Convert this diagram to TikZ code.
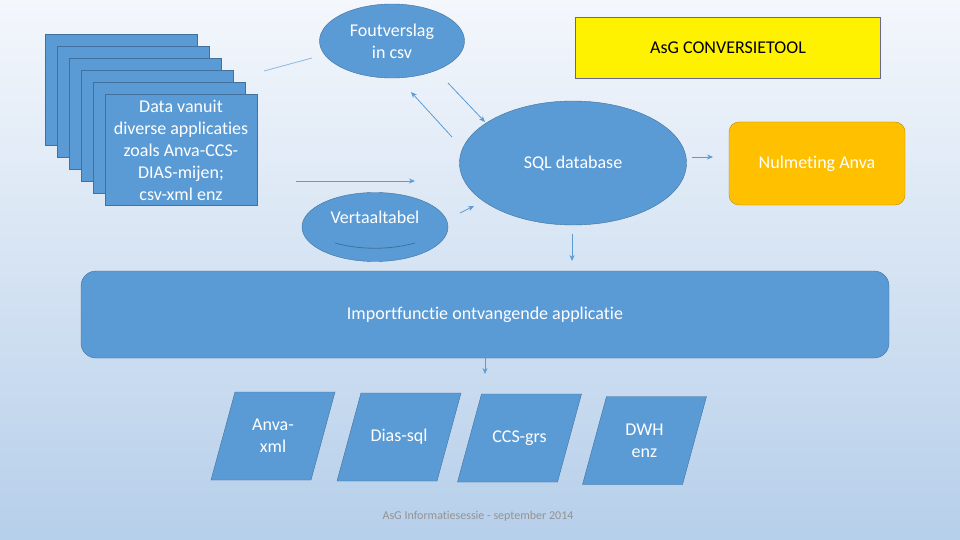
\documentclass[tikz,border=0pt]{standalone}
\usepackage{fontspec}
\setmainfont[Ligatures=NoCommon]{Carlito}
\usetikzlibrary{arrows.meta,shapes.geometric,positioning}

\definecolor{boxblue}{HTML}{5B9BD5}
\definecolor{boxedge}{HTML}{41719C}
\definecolor{nulfill}{HTML}{FFC000}
\definecolor{nuledge}{HTML}{BC8C00}
\definecolor{bgtop}{HTML}{F4F7FC}
\definecolor{bgbottom}{HTML}{B6CFEA}

\tikzset{
  blok/.style={draw=boxedge,fill=boxblue,text=white,font=\fontsize{18}{22}\selectfont,align=center},
  blad/.style={blok,rectangle,minimum width=152pt,minimum height=111pt,inner sep=0pt},
  ovaal/.style={blok,ellipse,inner sep=0pt},
  tekst/.style={text=white,font=\fontsize{18}{22}\selectfont,align=center},
  pijl/.style={draw=boxblue,line width=0.8pt,-{Stealth[length=6pt,width=5pt]}},
}

\begin{document}
\begin{tikzpicture}[x=1pt,y=-1pt]
\useasboundingbox (0,0) rectangle (960,540);
\shade[top color=bgtop,bottom color=bgbottom] (0,0) rectangle (960,540);

% stapel bladen met bronbestanden
\foreach \i in {0,...,4}
  \draw[draw=boxedge,fill=boxblue] (45+12*\i,34+12*\i) rectangle ++(152,111);
\node[blad] (bron) at (181,150) {Data vanuit\\diverse applicaties\\zoals Anva-CCS-\\DIAS-mijen;\\csv-xml enz};

% ellipsen
\node[ovaal,minimum width=145pt,minimum height=74pt] (fout) at (392,41) {Foutverslag\\in csv};
\node[ovaal,minimum width=146pt,minimum height=69pt] (vert) at (375,227) {};
\node[tekst] (vertlabel) at (375,217) {Vertaaltabel};
\draw[boxedge,line width=0.8pt] (335,243) .. controls (360,250) and (390,250) .. (415,243);
\node[ovaal,minimum width=227pt,minimum height=124pt] (sql) at (573,163) {SQL database};

% rechterkant
\node[draw=gray!80!blue,fill=yellow,minimum width=305pt,minimum height=61pt,
  font=\fontsize{18}{22}\selectfont] (tool) at (728,47.5) {AsG CONVERSIETOOL};
\node[draw=nuledge,fill=nulfill,text=white,rounded corners=10pt,minimum width=176pt,
  minimum height=83pt,font=\fontsize{18}{22}\selectfont] (nul) at (817,163.5) {Nulmeting Anva};

% importfunctie
\node[blok,rounded corners=15pt,minimum width=808pt,minimum height=87pt] (imp) at (485,314.5)
  {Importfunctie ontvangende applicatie};

% doelformaten (parallellogrammen)
\foreach \cx/\cy/\nm/\txt in {273/436/anva/{Anva-\\xml},399/437/dias/{Dias-sql},
    519.5/438/ccs/{CCS-grs},644.5/440.5/dwh/{DWH\\enz}} {
  \draw[draw=boxedge,fill=boxblue] (\cx-62,\cy+44) -- (\cx+38,\cy+44)
    -- (\cx+62,\cy-44) -- (\cx-38,\cy-44) -- cycle;
  \node[tekst] (\nm) at (\cx,\cy) {\txt};
}

\node[text=gray!85,font=\fontsize{12}{14}\selectfont] (voet) at (478,516) {AsG Informatiesessie - september 2014};

% verbindingen
\coordinate (l1) at (264,71);  \coordinate (l2) at (312,58);
\coordinate (a1) at (448,83);  \coordinate (a2) at (485,122);
\coordinate (b1) at (452,137); \coordinate (b2) at (411,92);
\coordinate (c1) at (296,181); \coordinate (c2) at (415,181);
\coordinate (d1) at (460,213); \coordinate (d2) at (474,206);
\coordinate (e1) at (692,157); \coordinate (e2) at (713,157);
\coordinate (f1) at (572,234); \coordinate (f2) at (572,261);
\coordinate (g1) at (485,352); \coordinate (g2) at (485,374);
\draw[boxblue!70,line width=0.8pt] (l1) -- (l2);
\draw[pijl] (a1) -- (a2);
\draw[pijl] (b1) -- (b2);
\draw[pijl] (c1) -- (c2);
\draw[pijl] (d1) -- (d2);
\draw[pijl] (e1) -- (e2);
\draw[pijl] (f1) -- (f2);
\draw[pijl] (g1) -- (g2);
\end{tikzpicture}
\end{document}
